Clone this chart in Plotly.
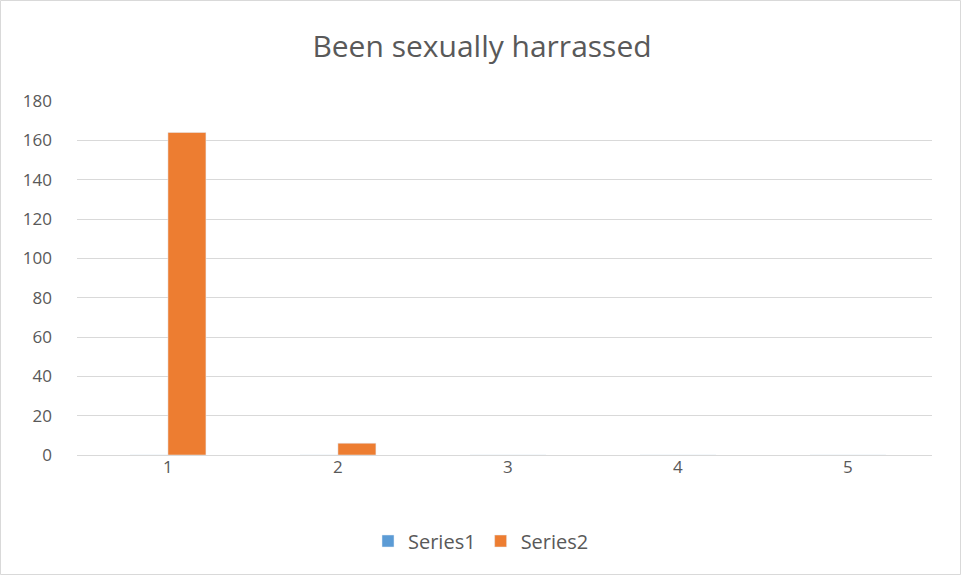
import plotly.graph_objects as go

categories = ["1", "2", "3", "4", "5"]
series1 = [0, 0, 0, 0, 0]
series2 = [164, 6, 0, 0, 0]
y_ticks = [0, 20, 40, 60, 80, 100, 120, 140, 160, 180]

W, H = 961, 575
L, R, T, B = 77, 29, 101, 120
pw = W - L - R
ph = H - T - B

fig = go.Figure()
fig.add_trace(go.Bar(name="Series1", x=categories, y=series1, marker_color="#5B9BD5"))
fig.add_trace(go.Bar(name="Series2", x=categories, y=series2, marker_color="#ED7D31"))

font_fam = "Open Sans, Liberation Sans, sans-serif"
fig.update_layout(
    width=W, height=H,
    margin=dict(l=L, r=R, t=T, b=B),
    paper_bgcolor="white", plot_bgcolor="white",
    barmode="group", bargap=0.553, bargroupgap=0,
    title=dict(text="Been sexually harrassed", x=(482 - L) / pw, xanchor="center", xref="paper",
               y=1 - 46 / H, yanchor="middle",
               font=dict(family=font_fam, size=30, color="#595959")),
    font=dict(family=font_fam, size=17, color="#595959"),
    showlegend=True,
    legend=dict(orientation="h", x=(481 - L) / pw, xanchor="center", y=-(541 - T - ph) / ph, yanchor="middle",
                font=dict(size=20, color="#595959"), itemwidth=30, traceorder="normal"),
    xaxis=dict(showgrid=False, showline=True, linecolor="#D9D9D9", linewidth=1,
               range=[-0.535, 4.495], ticklabelstandoff=-3,
               ticks="", tickfont=dict(size=17, color="#595959")),
    yaxis=dict(range=[0, 180], tickvals=y_ticks, showgrid=True, gridcolor="#D9D9D9",
               gridwidth=1, zeroline=False, showline=False, ticks="",
               ticklabelstandoff=24, tickfont=dict(size=17, color="#595959")),
    shapes=[dict(type="rect", xref="paper", yref="paper",
                 x0=(0.5 - L) / pw, x1=(W - 0.5 - L) / pw,
                 y0=-(H - 0.5 - T - ph) / ph, y1=(T - 0.5) / ph + 1,
                 line=dict(color="#D9D9D9", width=1), fillcolor="rgba(0,0,0,0)", layer="below")],
)

fig.write_html("out.html", config={"displayModeBar": False},
               post_script="document.body.style.margin='0px';")
